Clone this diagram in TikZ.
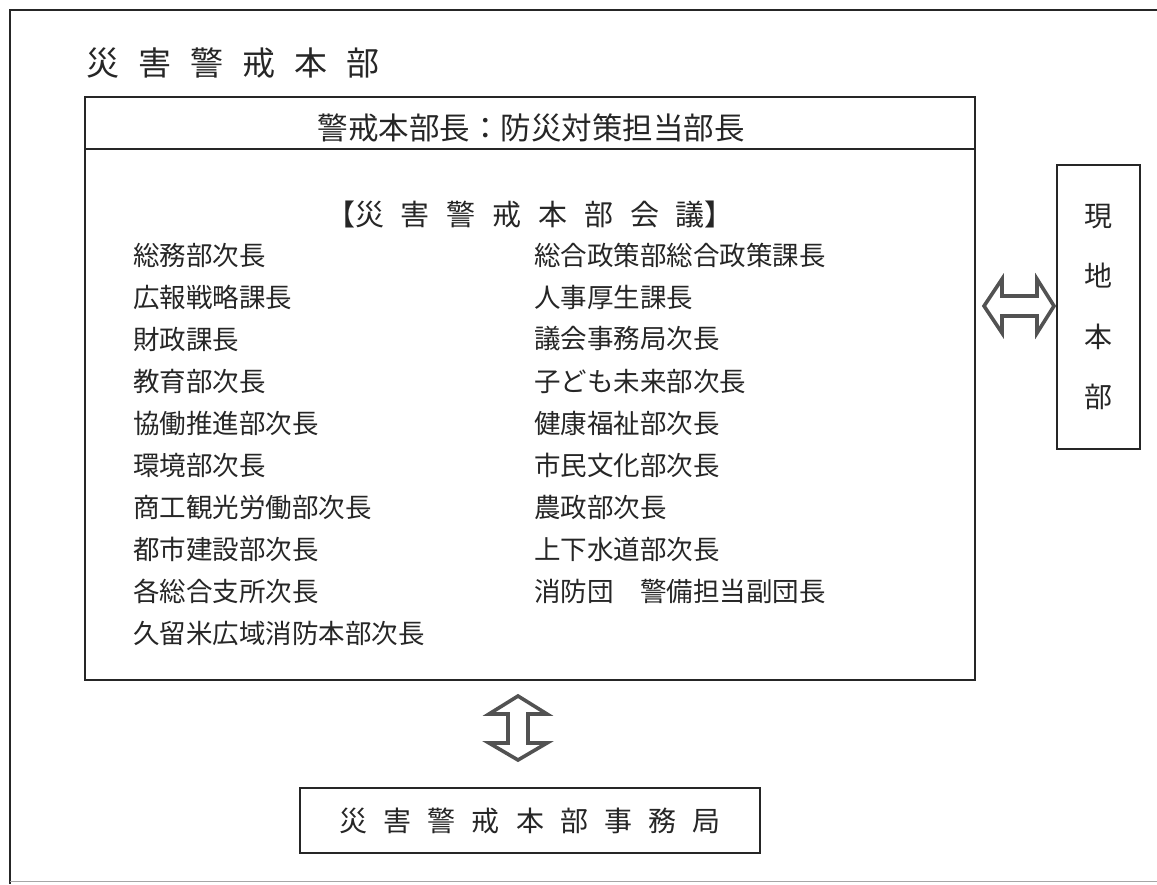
\documentclass[tikz,border=0pt]{standalone}
\usepackage{fontspec}
\newfontfamily\jp{Noto Sans CJK JP}
\usetikzlibrary{calc}
\newcommand\jsp{\hspace{0.58em}}
\begin{document}
\begin{tikzpicture}[x=1pt,y=-1pt,
  frame/.style={draw=black!85,line width=2pt},
  txt/.style={inner sep=0pt,text=black!85,font=\jp\fontsize{26.5}{30}\selectfont},
  litem/.style={txt,anchor=west},
  hollow/.style={draw=black!68,line width=3.6pt,fill=white,line join=miter}]
\useasboundingbox (0,0) rectangle (1157,884);
\fill[white] (0,0) rectangle (1157,884);
% outer frame
\draw[frame] (1157,10) -- (10,10) -- (10,884);
\draw[draw=black!35,line width=1pt] (10,881) -- (1157,881);
% title
\node[txt,anchor=west,font=\jp\fontsize{33}{40}\selectfont] (title) at (86,63)
  {災\jsp 害\jsp 警\jsp 戒\jsp 本\jsp 部};
% main box
\node[frame,minimum width=890pt,minimum height=583pt,inner sep=0pt] (main) at (530,388.5) {};
\draw[frame] ($(main.north west)+(0,53)$) -- ($(main.north east)+(0,53)$);
\node[txt,font=\jp\fontsize{30.5}{34}\selectfont] (head) at (531,128) {警戒本部長：防災対策担当部長};
\node[txt,font=\jp\fontsize{29}{34}\selectfont] (kaigi) at (530,215)
  {【災\jsp 害\jsp 警\jsp 戒\jsp 本\jsp 部\jsp 会\jsp 議】};
% left column
\node[litem] (l1) at (133,255) {総務部次長};
\node[litem] (l2) at (133,297) {広報戦略課長};
\node[litem] (l3) at (133,339) {財政課長};
\node[litem] (l4) at (133,381) {教育部次長};
\node[litem] (l5) at (133,423) {協働推進部次長};
\node[litem] (l6) at (133,465) {環境部次長};
\node[litem] (l7) at (133,507) {商工観光労働部次長};
\node[litem] (l8) at (133,549) {都市建設部次長};
\node[litem] (l9) at (133,591) {各総合支所次長};
\node[litem] (l10) at (133,633) {久留米広域消防本部次長};
% right column
\node[litem] (r1) at (534,255) {総合政策部総合政策課長};
\node[litem] (r2) at (534,297) {人事厚生課長};
\node[litem] (r3) at (534,339) {議会事務局次長};
\node[litem] (r4) at (534,381) {子ども未来部次長};
\node[litem] (r5) at (534,423) {健康福祉部次長};
\node[litem] (r6) at (534,465) {市民文化部次長};
\node[litem] (r7) at (534,507) {農政部次長};
\node[litem] (r8) at (534,549) {上下水道部次長};
\node[litem] (r9) at (534,591) {消防団\hspace{1em}警備担当副団長};
% genchi honbu
\node[frame,txt,minimum width=83pt,minimum height=284pt,align=center,
  font=\jp\fontsize{28}{60.5}\selectfont] (genchi) at (1098.5,307) {現\\地\\本\\部};
% jimukyoku
\node[frame,txt,minimum width=460pt,minimum height=65pt,
  font=\jp\fontsize{28}{34}\selectfont] (jimu) at (530,820.5)
  {災\jsp 害\jsp 警\jsp 戒\jsp 本\jsp 部\jsp 事\jsp 務\jsp 局};
% horizontal double arrow
\coordinate (hl) at ($(main.east |- genchi.west)+(8,-1)$);
\coordinate (hr) at ($(genchi.west)+(-2,-1)$);
\draw[hollow] (hl) -- ($(hl)+(18,-27)$) -- ($(hl)+(18,-10)$) -- ($(hr)+(-17,-10)$)
  -- ($(hr)+(-17,-27)$) -- (hr) -- ($(hr)+(-17,27)$) -- ($(hr)+(-17,10)$)
  -- ($(hl)+(18,10)$) -- ($(hl)+(18,27)$) -- cycle;
% vertical double arrow
\coordinate (vt) at ($(main.south)+(-12,15)$);
\coordinate (vb) at ($(jimu.north)+(-12,-27)$);
\draw[hollow] (vt) -- ($(vt)+(29,18)$) -- ($(vt)+(10,18)$) -- ($(vb)+(10,-17)$)
  -- ($(vb)+(29,-17)$) -- (vb) -- ($(vb)+(-29,-17)$) -- ($(vb)+(-10,-17)$)
  -- ($(vt)+(-10,18)$) -- ($(vt)+(-29,18)$) -- cycle;
\end{tikzpicture}
\end{document}
